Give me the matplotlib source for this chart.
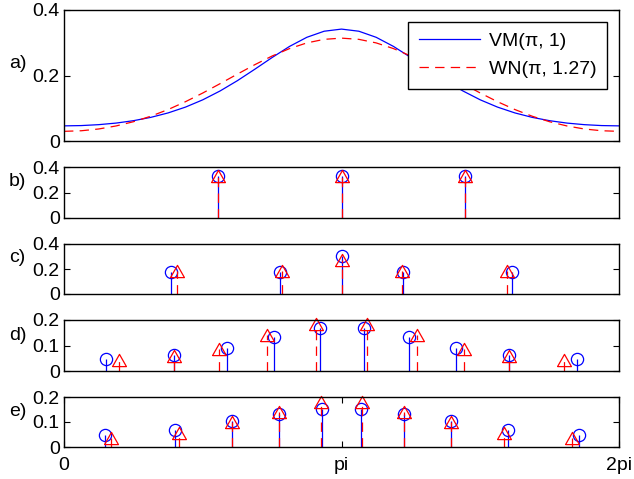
import numpy as np
import matplotlib
matplotlib.use('Agg')
import matplotlib.pyplot as plt

plt.rcParams['font.family'] = ['Liberation Sans', 'DejaVu Sans']
plt.rcParams['font.size'] = 14

PI = np.pi

# ---- panel a: densities sampled on 33 angles from 0 to 2pi ----
angles = np.linspace(0, 2 * PI, 33)
vm_half = [0.0462, 0.0471, 0.0499, 0.0547, 0.0620, 0.0721, 0.0857, 0.1034, 0.1257,
           0.1528, 0.1843, 0.2191, 0.2549, 0.2887, 0.3166, 0.3352, 0.3417]
wn_half = [0.0295, 0.0313, 0.0367, 0.0459, 0.0588, 0.0756, 0.0960, 0.1199, 0.1465,
           0.1751, 0.2043, 0.2330, 0.2595, 0.2821, 0.2995, 0.3104, 0.3141]
vm_density = vm_half + vm_half[-2::-1]
wn_density = wn_half + wn_half[-2::-1]

# ---- panel b ----
b_vm_x = [1.742, 3.142, 4.542]
b_vm_w = [0.333, 0.333, 0.333]
b_wn_x = [1.742, 3.142, 4.542]
b_wn_w = [0.333, 0.333, 0.333]

# ---- panel c ----
c_vm_x = [1.208, 2.447, 3.142, 3.837, 5.075]
c_vm_w = [0.175, 0.175, 0.305, 0.175, 0.175]
c_wn_x = [1.274, 2.463, 3.142, 3.821, 5.010]
c_wn_w = [0.185, 0.185, 0.270, 0.185, 0.185]

# ---- panel d ----
d_vm_x = [0.472, 1.245, 1.844, 2.376, 2.893, 3.391, 3.908, 4.440, 5.039, 5.812]
d_vm_w = [0.046, 0.061, 0.091, 0.135, 0.170, 0.170, 0.135, 0.091, 0.061, 0.046]
d_wn_x = [0.623, 1.246, 1.757, 2.293, 2.855, 3.429, 3.991, 4.527, 5.038, 5.661]
d_wn_w = [0.045, 0.058, 0.087, 0.143, 0.184, 0.184, 0.143, 0.087, 0.058, 0.045]

# ---- panel e ----
e_vm_x = [0.459, 1.260, 1.904, 2.433, 2.916, 3.368, 3.851, 4.380, 5.024, 5.825]
e_vm_w = [0.047, 0.067, 0.103, 0.131, 0.153, 0.153, 0.131, 0.103, 0.067, 0.047]
e_wn_x = [0.535, 1.306, 1.904, 2.433, 2.910, 3.374, 3.851, 4.380, 4.978, 5.749]
e_wn_w = [0.035, 0.055, 0.099, 0.140, 0.180, 0.180, 0.140, 0.099, 0.055, 0.035]

panel_labels = ['a)', 'b)', 'c)', 'd)', 'e)']
legend_labels = ['VM(\u03c0, 1)', 'WN(\u03c0, 1.27)']
x_tick_labels = ['0', 'pi', '2pi']

W, H = 634, 479
fig = plt.figure(figsize=(W / 100, H / 100), dpi=100)

left = 64 / W
width = (619 - 64) / W
boxes = [(10, 141), (167, 218), (244, 294), (320, 371), (397, 447)]
label_y = [63, 181.5, 257.5, 335, 412]

DASH = (0, (7.5, 5.0))
tri = [(-1, -0.88), (1, -0.88), (0, 0.88), (-1, -0.88)]

axes = []
for (t, b) in boxes:
    ax = fig.add_axes([left, 1 - b / H, width, (b - t) / H])
    axes.append(ax)

# panel a
ax = axes[0]
ax.plot(angles, vm_density, color='b', lw=0.9, label=legend_labels[0])
ax.plot(angles, wn_density, color='r', lw=0.9, linestyle=DASH, label=legend_labels[1])
ax.set_ylim(0, 0.4)
ax.set_yticks([0, 0.2, 0.4])
ax.set_yticklabels(['0', '0.2', '0.4'])
leg = ax.legend(loc='upper right', fancybox=False, framealpha=1, edgecolor='black',
                handlelength=3.15, handletextpad=0.45, borderaxespad=0.6,
                labelspacing=0.55, borderpad=0.55, fontsize=14)
leg.get_frame().set_linewidth(1.0)


def stems(ax, x, w, color, ls, marker, ms):
    ax.vlines(x, 0, w, colors=color, linestyles=ls, lw=0.9)
    ax.plot(x, w, linestyle='none', marker=marker, mfc='none', mec=color,
            ms=ms, mew=0.9, clip_on=False)


stem_data = [
    (b_vm_x, b_vm_w, b_wn_x, b_wn_w, 0.4),
    (c_vm_x, c_vm_w, c_wn_x, c_wn_w, 0.4),
    (d_vm_x, d_vm_w, d_wn_x, d_wn_w, 0.2),
    (e_vm_x, e_vm_w, e_wn_x, e_wn_w, 0.2),
]
for ax, (vx, vw, wx, ww, ymax) in zip(axes[1:], stem_data):
    stems(ax, vx, vw, 'b', 'solid', 'o', 8.8)
    stems(ax, wx, ww, 'r', DASH, tri, 10)
    ax.set_ylim(0, ymax)
    if ymax == 0.4:
        ax.set_yticks([0, 0.2, 0.4])
        ax.set_yticklabels(['0', '0.2', '0.4'])
    else:
        ax.set_yticks([0, 0.1, 0.2])
        ax.set_yticklabels(['0', '0.1', '0.2'])

for i, ax in enumerate(axes):
    ax.set_xlim(0, 2 * PI)
    for s in ax.spines.values():
        s.set_linewidth(1.0)
    ax.tick_params(direction='in', length=4, width=0.8, right=True, pad=3,
                   labelsize=14)
    if i < 4:
        ax.set_xticks([])
    else:
        ax.set_xticks([0, PI, 2 * PI])
        ax.set_xticklabels(x_tick_labels)
        ax.tick_params(axis='x', top=True, pad=7)
    fig.text(9 / W, 1 - label_y[i] / H, panel_labels[i], ha='left', va='center',
             fontsize=14)

fig.savefig('out.png', dpi=100)
